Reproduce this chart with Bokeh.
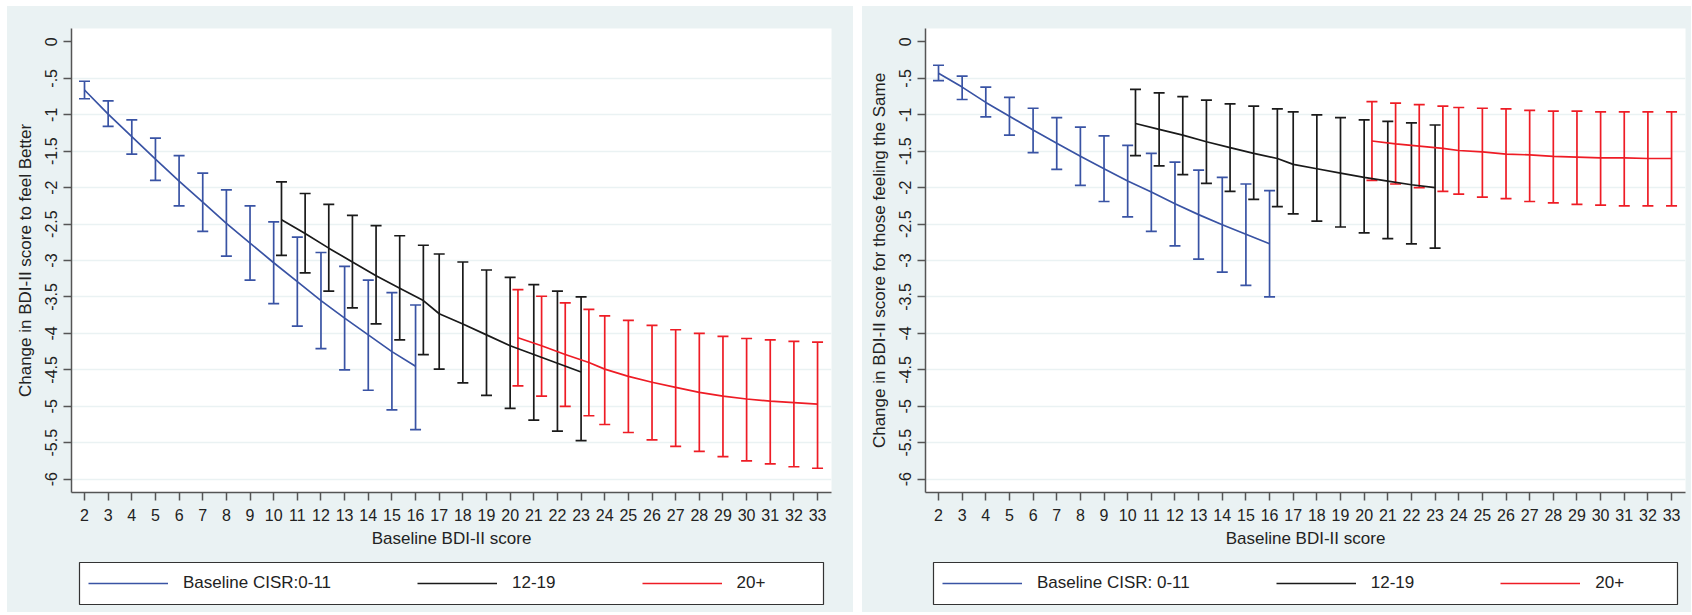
from bokeh.plotting import figure
from bokeh.models import (ColumnDataSource, Whisker, TeeHead, Range1d, FixedTicker,
                          Legend, LegendItem, Spacer)
from bokeh.layouts import row, column
from bokeh.embed import file_html
from bokeh.resources import INLINE

# ---------------- data ----------------
x_ticks = list(range(2, 34))
y_ticks = [0, -0.5, -1, -1.5, -2, -2.5, -3, -3.5, -4, -4.5, -5, -5.5, -6]
y_tick_labels = ["0", "-.5", "-1", "-1.5", "-2", "-2.5", "-3", "-3.5", "-4", "-4.5", "-5", "-5.5", "-6"]
x_title = "Baseline BDI-II score"

blue_x = [2, 3, 4, 5, 6, 7, 8, 9, 10, 11, 12, 13, 14, 15, 16]
black_x = [10.33, 11.33, 12.33, 13.33, 14.33, 15.33, 16.33, 17, 18, 19, 20, 21, 22, 23]
red_x = [20.33, 21.33, 22.33, 23.33, 24, 25, 26, 27, 28, 29, 30, 31, 32, 33]

# Left panel: feel Better
better_title = "Change in BDI-II score to feel Better"
better_labels = ["Baseline CISR:0-11", "12-19", "20+"]
better_blue_mid = [-0.66, -0.99, -1.30, -1.61, -1.91, -2.20, -2.49, -2.76, -3.03, -3.29, -3.55, -3.79, -4.02, -4.25, -4.45]
better_blue_lo = [-0.78, -1.16, -1.54, -1.90, -2.25, -2.60, -2.94, -3.27, -3.59, -3.90, -4.21, -4.50, -4.78, -5.05, -5.32]
better_blue_hi = [-0.54, -0.81, -1.07, -1.32, -1.56, -1.80, -2.03, -2.25, -2.47, -2.68, -2.89, -3.08, -3.27, -3.44, -3.61]
better_black_mid = [-2.44, -2.63, -2.83, -3.02, -3.21, -3.38, -3.55, -3.73, -3.87, -4.02, -4.17, -4.29, -4.41, -4.53]
better_black_lo = [-2.93, -3.17, -3.42, -3.65, -3.87, -4.09, -4.29, -4.49, -4.68, -4.85, -5.03, -5.19, -5.34, -5.47]
better_black_hi = [-1.92, -2.08, -2.23, -2.38, -2.52, -2.66, -2.79, -2.91, -3.02, -3.13, -3.23, -3.33, -3.42, -3.50]
better_red_mid = [-4.06, -4.17, -4.29, -4.40, -4.49, -4.59, -4.67, -4.74, -4.81, -4.86, -4.90, -4.93, -4.95, -4.97]
better_red_lo = [-4.72, -4.86, -5.00, -5.13, -5.25, -5.36, -5.46, -5.55, -5.62, -5.69, -5.75, -5.79, -5.83, -5.85]
better_red_hi = [-3.40, -3.49, -3.58, -3.67, -3.76, -3.82, -3.89, -3.95, -4.00, -4.04, -4.07, -4.09, -4.11, -4.12]

# Right panel: feeling the Same
same_title = "Change in BDI-II score for those feeling the Same"
same_labels = ["Baseline CISR: 0-11", "12-19", "20+"]
same_blue_mid = [-0.43, -0.62, -0.83, -1.02, -1.21, -1.39, -1.57, -1.74, -1.91, -2.06, -2.22, -2.37, -2.51, -2.64, -2.77]
same_blue_lo = [-0.53, -0.79, -1.03, -1.28, -1.52, -1.75, -1.97, -2.19, -2.40, -2.60, -2.80, -2.98, -3.16, -3.34, -3.50]
same_blue_hi = [-0.32, -0.47, -0.62, -0.76, -0.91, -1.04, -1.17, -1.29, -1.42, -1.53, -1.65, -1.76, -1.86, -1.95, -2.04]
same_black_mid = [-1.12, -1.20, -1.28, -1.37, -1.45, -1.53, -1.60, -1.68, -1.74, -1.80, -1.86, -1.91, -1.96, -2.00]
same_black_lo = [-1.56, -1.70, -1.82, -1.94, -2.05, -2.16, -2.26, -2.36, -2.46, -2.54, -2.62, -2.70, -2.77, -2.83]
same_black_hi = [-0.65, -0.70, -0.75, -0.80, -0.85, -0.88, -0.92, -0.96, -1.00, -1.04, -1.07, -1.09, -1.11, -1.14]
same_red_mid = [-1.36, -1.40, -1.43, -1.46, -1.49, -1.51, -1.54, -1.55, -1.57, -1.58, -1.59, -1.59, -1.60, -1.60]
same_red_lo = [-1.90, -1.95, -2.00, -2.05, -2.09, -2.13, -2.15, -2.19, -2.21, -2.23, -2.24, -2.25, -2.25, -2.25]
same_red_hi = [-0.82, -0.84, -0.86, -0.88, -0.90, -0.91, -0.92, -0.94, -0.95, -0.95, -0.96, -0.96, -0.96, -0.96]

# ---------------- style ----------------
BG = "#EAF2F3"
BLUE = "#3953A4"
BLACK = "#1A1A1A"
RED = "#EE1C25"
AXIS = "#555555"
FONT = "Liberation Sans"
FS = "17px"
TFS = "16px"
LW = 1.7


def make_panel(ytitle, series, left_border, right_border):
    p = figure(frame_width=760, frame_height=464,
               x_range=Range1d(1.45, 33.59), y_range=Range1d(-6.183, 0.184),
               output_backend="svg", toolbar_location=None,
               min_border_left=left_border, min_border_right=right_border,
               min_border_top=22, min_border_bottom=60,
               border_fill_color=BG, background_fill_color="white",
               outline_line_color=None)

    p.xaxis.ticker = FixedTicker(ticks=x_ticks)
    p.yaxis.ticker = FixedTicker(ticks=y_ticks)
    p.yaxis.major_label_overrides = {v: s for v, s in zip(y_ticks, y_tick_labels)}
    p.yaxis.major_label_orientation = "vertical"
    for ax in (p.xaxis, p.yaxis):
        ax.axis_line_color = AXIS
        ax.axis_line_width = 1.5
        ax.major_tick_line_color = AXIS
        ax.major_tick_line_width = 1.5
        ax.major_tick_in = 0
        ax.major_tick_out = 8
        ax.minor_tick_line_color = None
        ax.major_label_text_font = FONT
        ax.major_label_text_font_size = TFS
        ax.major_label_text_color = "#222222"
        ax.axis_label_text_font = FONT
        ax.axis_label_text_font_size = FS
        ax.axis_label_text_font_style = "normal"
        ax.axis_label_text_color = "#222222"
    p.xaxis.axis_label = x_title
    p.yaxis.axis_label = ytitle
    p.xaxis.major_label_standoff = 8
    p.yaxis.major_label_standoff = 6
    p.xaxis.axis_label_standoff = 5
    p.yaxis.axis_label_standoff = 8

    p.xgrid.visible = False
    p.ygrid.ticker = FixedTicker(ticks=[t for t in y_ticks if t != 0])
    p.ygrid.grid_line_color = BG
    p.ygrid.grid_line_width = 1.5

    for xs, mid, lo, hi, color in series:
        src = ColumnDataSource(dict(x=xs, mid=mid, lo=lo, hi=hi))
        w = Whisker(source=src, base="x", upper="hi", lower="lo", dimension="height",
                    line_color=color, line_width=LW,
                    upper_head=TeeHead(size=11, line_color=color, line_width=LW),
                    lower_head=TeeHead(size=11, line_color=color, line_width=LW))
        p.add_layout(w)
        p.line("x", "mid", source=src, line_color=color, line_width=LW)
    return p


def make_legend(labels, series, left_border, right_border):
    # the frame of this small figure is the white legend box; the series lines
    # lie outside its (0..1) ranges, so only their legend swatches show
    lg = figure(frame_width=744, frame_height=42,
                x_range=Range1d(0, 1), y_range=Range1d(0, 1),
                x_axis_location=None, y_axis_location=None,
                output_backend="svg", toolbar_location=None,
                min_border_left=left_border, min_border_right=right_border,
                min_border_top=10, min_border_bottom=8,
                border_fill_color=BG, background_fill_color="white",
                outline_line_color="#333333", outline_line_width=1.2)
    lg.grid.visible = False
    items = []
    for lab, (xs, mid, lo, hi, color) in zip(labels, series):
        r = lg.line(x=xs, y=mid, line_color=color, line_width=LW)
        items.append(LegendItem(label=lab, renderers=[r]))
    legend = Legend(items=items, orientation="horizontal", location="left",
                    spacing=86, glyph_width=80, glyph_height=22, label_height=22,
                    label_standoff=15, padding=0, margin=9,
                    label_text_font=FONT, label_text_font_size=FS,
                    label_text_color="#222222",
                    border_line_alpha=0, background_fill_alpha=0)
    lg.add_layout(legend)
    return lg


better_series = [
    (blue_x, better_blue_mid, better_blue_lo, better_blue_hi, BLUE),
    (black_x, better_black_mid, better_black_lo, better_black_hi, BLACK),
    (red_x, better_red_mid, better_red_lo, better_red_hi, RED),
]
same_series = [
    (blue_x, same_blue_mid, same_blue_lo, same_blue_hi, BLUE),
    (black_x, same_black_mid, same_black_lo, same_black_hi, BLACK),
    (red_x, same_red_mid, same_red_lo, same_red_hi, RED),
]

p1 = make_panel(better_title, better_series, 64, 22)
l1 = make_legend(better_labels, better_series, 64, 30)
p2 = make_panel(same_title, same_series, 63, 6)
l2 = make_legend(same_labels, same_series, 63, 14)

bgstyle = {"background-color": BG}
layout = column(Spacer(height=6),
                row(Spacer(width=7),
                    column(p1, row(Spacer(width=8), l1), styles=bgstyle),
                    Spacer(width=9),
                    column(p2, row(Spacer(width=8), l2), styles=bgstyle)))
open("out.html", "w").write(file_html(layout, INLINE))
